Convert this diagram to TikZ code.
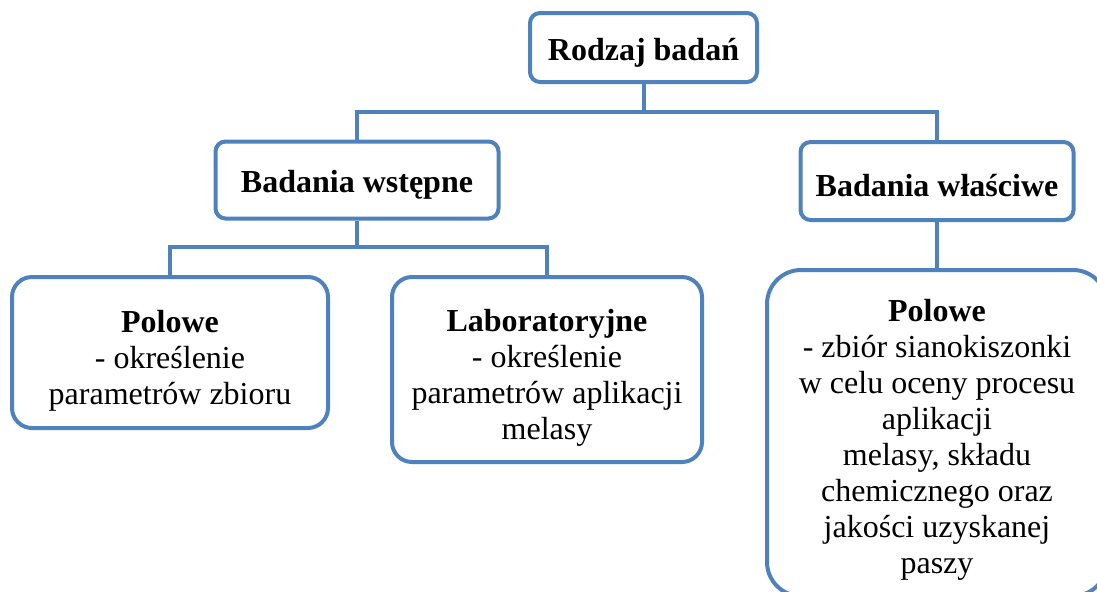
\documentclass[tikz,border=0pt]{standalone}
\usepackage{fontspec}
\setmainfont{Liberation Serif}
\usetikzlibrary{positioning,calc}

\definecolor{frameblue}{RGB}{79,129,189}

\begin{document}
\begin{tikzpicture}[x=0.5pt, y=-0.5pt,
    box/.style={draw=frameblue, line width=2pt, fill=white, rounded corners=5pt, inner sep=0pt},
    txt/.style={align=center, inner sep=0pt, font=\fontsize{16}{18}\selectfont},
    link/.style={draw=frameblue, line width=2pt}]
    \useasboundingbox (0,0) rectangle (1097,591);

    % Top level
    \node[box, minimum width=113.5pt, minimum height=34.5pt] (root) at (643.5,47.5) {};
    \node[txt] (root-t) at ([yshift=-2.5pt]root.center) {\textbf{Rodzaj badań}};

    % Second level
    \node[box, minimum width=141.5pt, minimum height=38.5pt] (pre) at (357,180) {};
    \node[txt] (pre-t) at ([yshift=-2.5pt]pre.center) {\textbf{Badania wstępne}};
    \node[box, minimum width=136.5pt, minimum height=39pt] (main) at (937,181) {};
    \node[txt] (main-t) at ([yshift=-2.5pt]main.center) {\textbf{Badania właściwe}};

    % Third level
    \node[box, rounded corners=10pt, minimum width=158pt, minimum height=75.5pt] (field) at (170,352.5) {};
    \node[txt] (field-t) at ([yshift=-4pt]field.center)
      {\textbf{Polowe}\\- określenie\\parametrów zbioru};
    \node[box, rounded corners=10pt, minimum width=155pt, minimum height=92.5pt] (lab) at (547,369.5) {};
    \node[txt] (lab-t) at ([yshift=-4pt]lab.center)
      {\textbf{Laboratoryjne}\\- określenie\\parametrów aplikacji\\melasy};
    \node[box, rounded corners=17pt, minimum width=170pt, minimum height=163pt] (harvest) at (937,433) {};
    \node[txt] (harvest-t) at ([yshift=-3.5pt]harvest.center)
      {\textbf{Polowe}\\- zbiór sianokiszonki\\w celu oceny procesu\\aplikacji\\melasy, składu\\chemicznego oraz\\jakości uzyskanej\\paszy};

    % Connectors
    \coordinate (bus1) at (643.5,112);
    \coordinate (bus2) at (357,247);
    \draw[link] (root.south) -- (bus1);
    \draw[link] (pre.north) |- (bus1) -| (main.north);
    \draw[link] (pre.south) -- (bus2);
    \draw[link] (field.north) |- (bus2) -| (lab.north);
    \draw[link] (main.south) -- (harvest.north);
  \end{tikzpicture}
\end{document}
